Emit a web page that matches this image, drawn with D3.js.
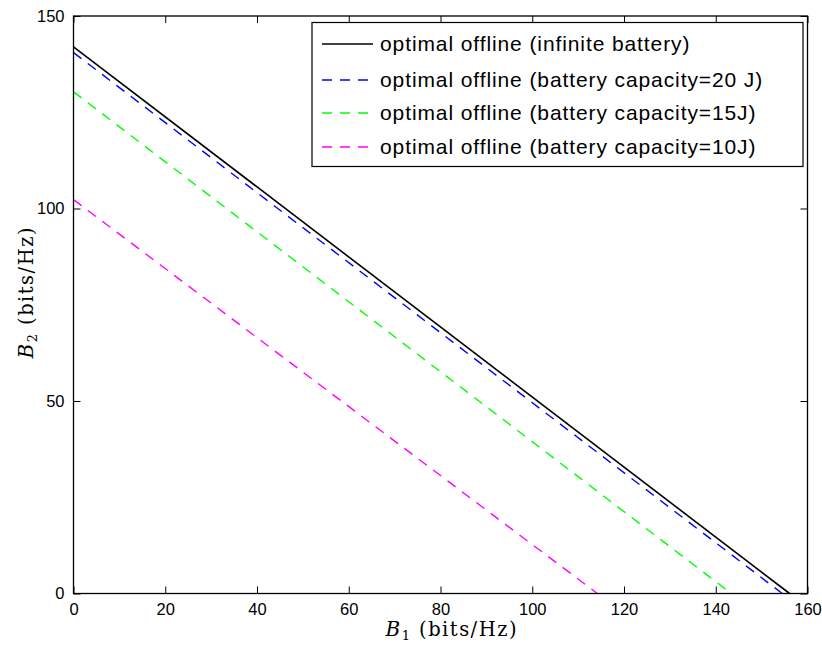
<!DOCTYPE html>
<html><head><meta charset="utf-8">
<script src="https://cdn.jsdelivr.net/npm/d3@7/dist/d3.min.js"></script>
<style>body{margin:0;background:#fff}svg{display:block}</style>
</head><body><svg id="c" width="822" height="645"></svg>
<script>
const seriesNames = ["optimal offline (infinite battery)","optimal offline (battery capacity=20 J)","optimal offline (battery capacity=15J)","optimal offline (battery capacity=10J)"];
const seriesColors = ["#000000","#0000ff","#00ff00","#ff00ff"];
const seriesDash = [null,"10,8","10,8","10,8"];
const infB1 = [0,156.1]; const infB2 = [142,0];
const c20B1 = [0,154.5]; const c20B2 = [140.5,0];
const c15B1 = [0,143.4]; const c15B2 = [130.3,0];
const c10B1 = [0,114.2]; const c10B2 = [102.3,0];
const xTicks = [0,20,40,60,80,100,120,140,160];
const yTicks = [0,50,100,150];

const series = [[infB1,infB2],[c20B1,c20B2],[c15B1,c15B2],[c10B1,c10B2]];
const svg = d3.select("#c");
const L=73.5,R=807.5,T=16,B=593.5;
const x = d3.scaleLinear().domain([0,160]).range([L,R]);
const y = d3.scaleLinear().domain([0,150]).range([B,T]);
const font = "'Liberation Sans', Arial, Helvetica, sans-serif";

const line = d3.line().x(d=>x(d[0])).y(d=>y(d[1]));
series.forEach((s,i)=>{
  const pts = s[0].map((v,j)=>[v,s[1][j]]);
  svg.append("path").attr("d",line(pts)).attr("fill","none")
    .attr("stroke",seriesColors[i]).attr("stroke-width",i===0?1.6:1.4)
    .attr("stroke-dasharray",seriesDash[i]);
});

// axes
function styleAxis(g){ g.select(".domain").remove(); g.selectAll("line").attr("stroke","#000").attr("stroke-width",1); g.selectAll("text").attr("font-family",font).attr("font-size","16.5px").attr("fill","#000"); }
svg.append("g").attr("transform",`translate(0,${B})`).call(d3.axisBottom(x).tickValues(xTicks).tickSize(-7).tickPadding(10).tickFormat(d3.format("d"))).call(styleAxis);
svg.append("g").attr("transform",`translate(0,${T})`).call(d3.axisTop(x).tickValues(xTicks).tickSize(-7).tickFormat("")).call(styleAxis);
svg.append("g").attr("transform",`translate(${L},0)`).call(d3.axisLeft(y).tickValues(yTicks).tickSize(-7).tickPadding(9).tickFormat(d3.format("d"))).call(styleAxis);
svg.append("g").attr("transform",`translate(${R},0)`).call(d3.axisRight(y).tickValues(yTicks).tickSize(-7).tickFormat("")).call(styleAxis);
svg.append("rect").attr("x",L).attr("y",T).attr("width",R-L).attr("height",B-T).attr("fill","none").attr("stroke","#000").attr("stroke-width",1.3);

// axis titles
const serif = "'DejaVu Serif','Liberation Serif',serif";
function title(sel, sub){
  sel.attr("text-anchor","middle").attr("font-family",serif).attr("font-size","19.5px")
     .attr("textLength",131).attr("lengthAdjust","spacing");
  sel.append("tspan").attr("font-style","italic").attr("font-size","20px").text("B");
  sel.append("tspan").attr("font-size","13px").attr("dy",4).text(sub);
  sel.append("tspan").attr("dy",-4).text(" (bits/Hz)");
}
title(svg.append("text").attr("x",451).attr("y",636), "1");
title(svg.append("text").attr("transform","translate(33,293) rotate(-90)"), "2");

// legend
const lg = svg.append("g");
lg.append("rect").attr("x",312).attr("y",22.5).attr("width",491).attr("height",144).attr("fill","#fff").attr("stroke","#000").attr("stroke-width",1.2);
const rowY = [44,80,113,147];
seriesNames.forEach((n,i)=>{
  lg.append("line").attr("x1",322).attr("x2",373).attr("y1",rowY[i]).attr("y2",rowY[i])
    .attr("stroke",seriesColors[i]).attr("stroke-width",i===0?1.6:1.4).attr("stroke-dasharray",seriesDash[i]);
  lg.append("text").attr("x",380).attr("y",rowY[i]+7).attr("font-family",font).attr("font-size","21px").attr("letter-spacing","0.9px").text(n);
});
</script></body></html>
